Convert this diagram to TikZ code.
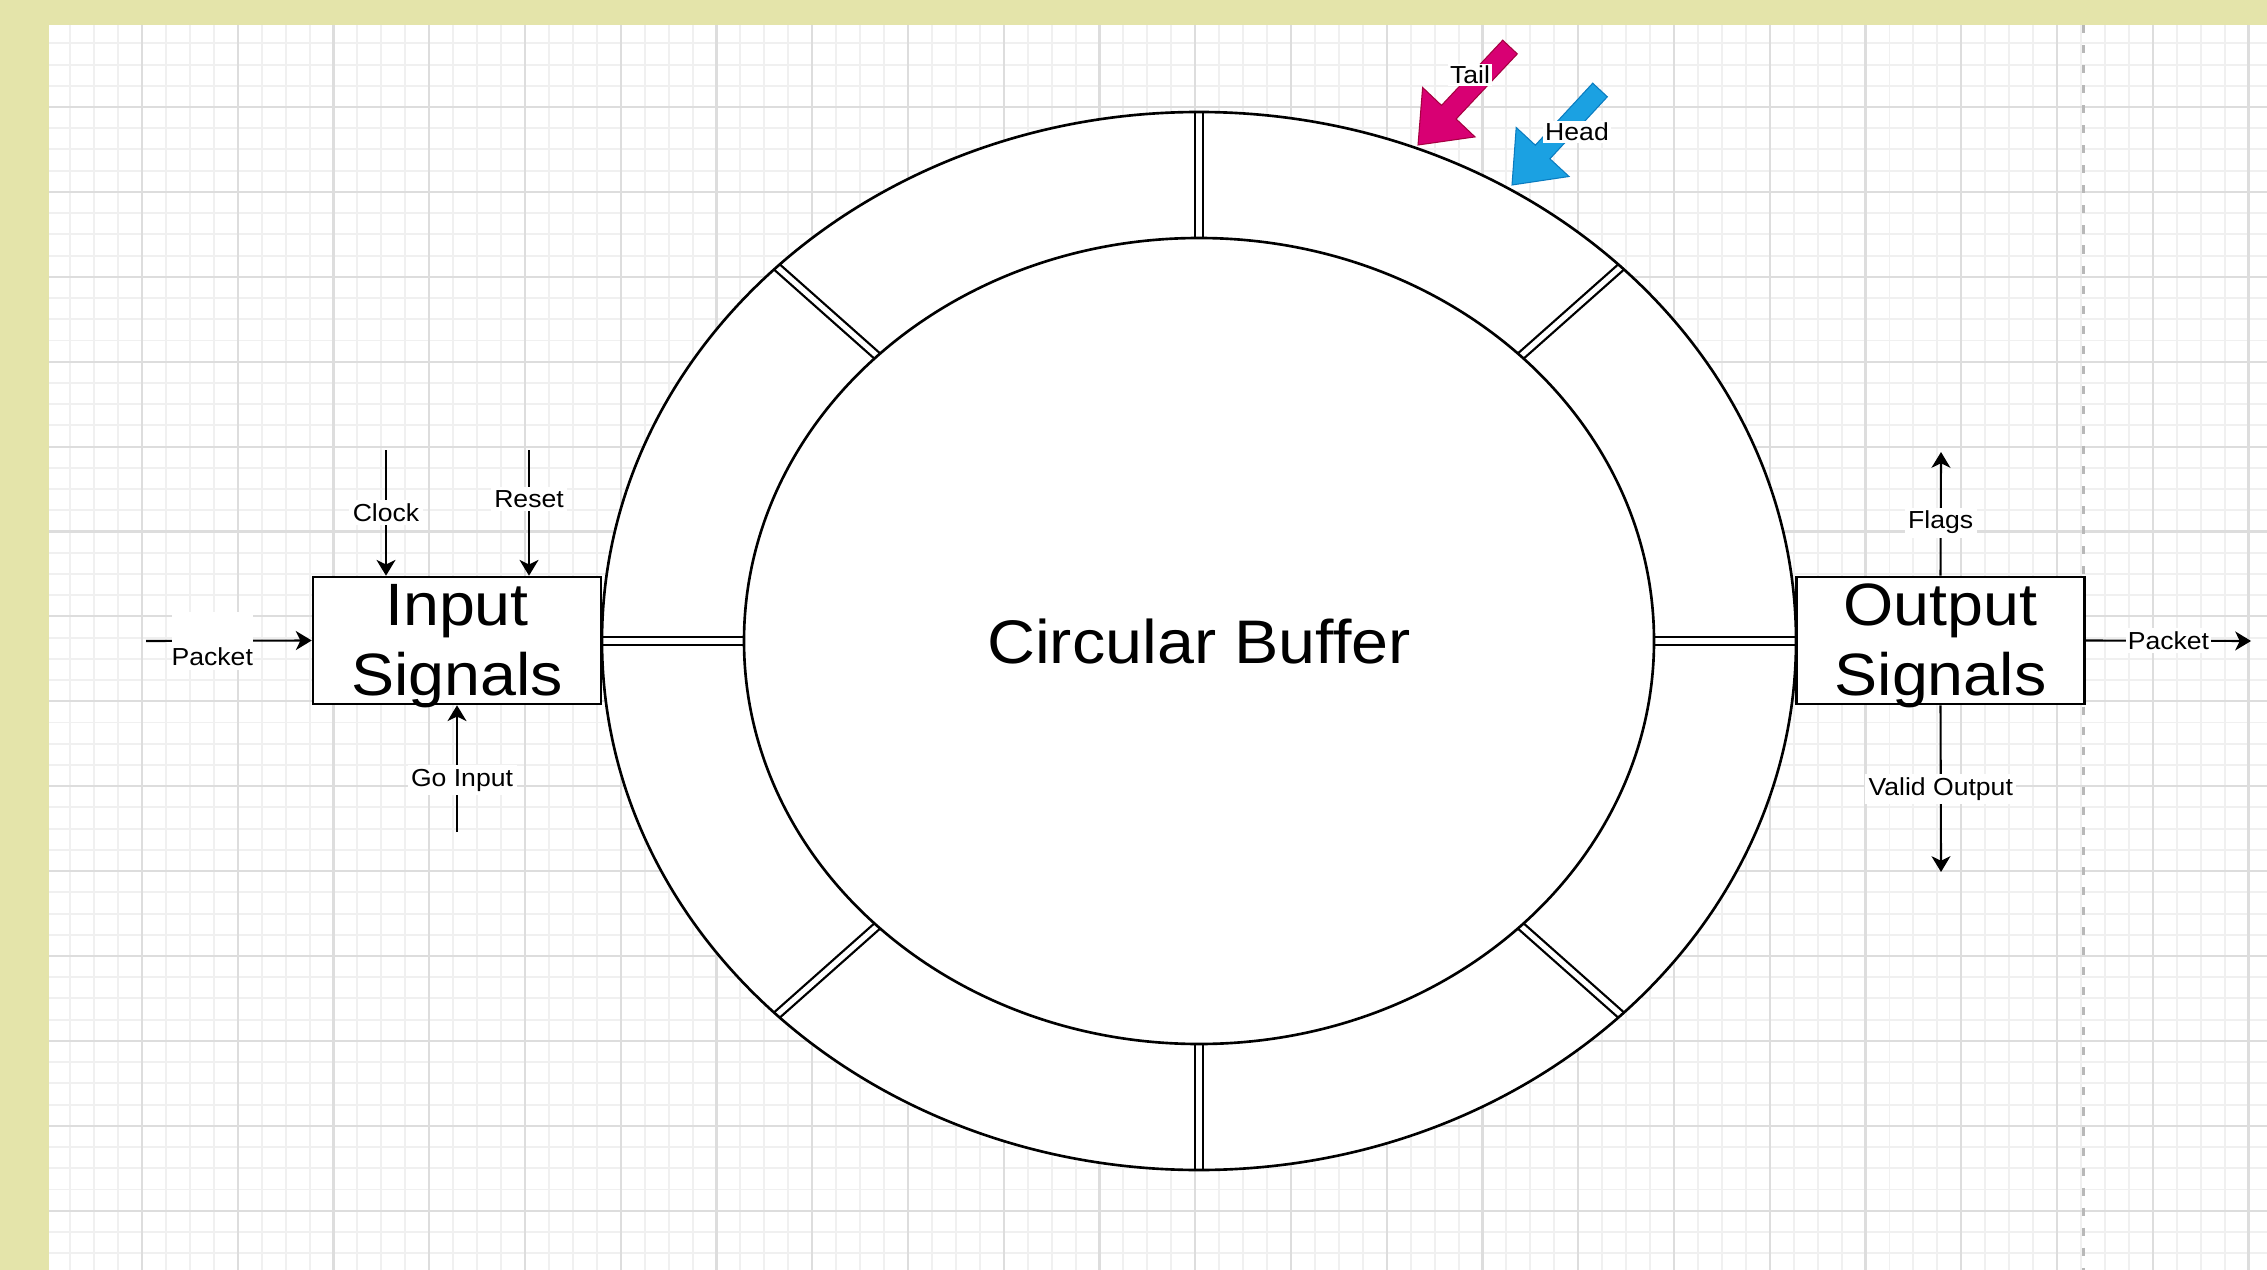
\documentclass[tikz,border=0pt]{standalone}
\usepackage{fontspec}
\setmainfont{Liberation Sans}
\usepackage{graphicx}
\usetikzlibrary{arrows.meta}
\definecolor{bgolive}{HTML}{E4E4AA}
\definecolor{gridmajor}{HTML}{DDDDDD}
\definecolor{gridminor}{HTML}{F0F0F0}
\definecolor{tailcol}{HTML}{D80073}
\definecolor{tailedge}{HTML}{A50040}
\definecolor{headcol}{HTML}{1BA1E2}
\definecolor{headedge}{HTML}{0A7CC0}
\definecolor{dashgray}{HTML}{B8B8B8}
\newcommand{\sx}[1]{\scalebox{1.08}[1]{#1}}
\newcommand{\topline}[1]{\raisebox{0pt}[11.5pt][0pt]{\sx{#1}}}
\newcommand{\botline}[1]{\raisebox{0pt}[\height][0pt]{\sx{#1}}}
\tikzset{
  sigbox/.style={draw=black, line width=0.7pt, fill=white, minimum width=2.88cm,
    minimum height=1.27cm, inner sep=0pt, align=center, font=\fontsize{17}{19.8}\selectfont},
  sig/.style={draw=black, line width=0.6pt, -{Stealth[length=4.5pt,width=5.4pt,inset=1.3pt]}},
  siglabel/.style={fill=white, inner xsep=1pt, inner ysep=1pt, font=\fontsize{7}{8}\selectfont},
  ringline/.style={draw=black, line width=0.75pt},
  divider/.style={draw=black, line width=0.65pt, double=white, double distance=1.5pt},
  ptrlabel/.style={fill=white, inner sep=0.5pt, font=\fontsize{7}{8}\selectfont},
  minorline/.style={gridminor, line width=0.55pt},
  majorline/.style={gridmajor, line width=0.6pt},
}
\begin{document}
\begin{tikzpicture}[x=0.01cm, y=-0.01cm]
\useasboundingbox (0,0) rectangle (2267,1270);
\fill[white] (0,0) rectangle (2267,1270);
% grid
\foreach \i in {0,...,93} \draw[minorline] ({46.25+\i*23.9375},0) -- ++(0,1270);
\foreach \j in {0,...,58} \draw[minorline] (0,{22.1+\j*21.225}) -- ++(2267,0);
\foreach \i in {0,...,23} \draw[majorline] ({46.25+\i*95.75},0) -- ++(0,1270);
\foreach \j in {0,...,14} \draw[majorline] (0,{22.1+\j*84.9}) -- ++(2267,0);
% page border
\fill[bgolive] (0,0) rectangle (49,1270);
\fill[bgolive] (0,0) rectangle (2267,25);
% dashed page break
\draw[dashgray, line width=0.85pt, dash pattern=on 2.3pt off 3.4pt] (2083,25) -- (2083,1270);
% ring
\fill[white] (1199,641) ellipse [x radius=597, y radius=529];
\foreach \a in {0,45,...,315}
  \draw[divider] ({1199+455*cos(\a)},{641-403*sin(\a)}) -- ({1199+597*cos(\a)},{641-529*sin(\a)});
\draw[ringline] (1199,641) ellipse [x radius=597, y radius=529];
\draw[ringline] (1199,641) ellipse [x radius=455, y radius=403];
\node[font=\fontsize{17.5}{20}\selectfont] (cb) at (1199,641) {\sx{Circular Buffer}};
% boxes
\node[sigbox] (in) at (457,640.5) {\topline{Input}\\\botline{Signals}};
\node[sigbox] (out) at (1940.5,640.5) {\topline{Output}\\\botline{Signals}};
% input signals
\coordinate (clk) at (386,450);
\coordinate (rst) at (529,450);
\coordinate (go) at (457,832);
\coordinate (pin) at (146,641);
\draw[sig] (clk) -- (clk |- in.north) node[siglabel, pos=0.5] {\sx{Clock}};
\draw[sig] (rst) -- (rst |- in.north) node[siglabel, pos=0.39] {\sx{Reset}};
\draw[sig] (go) -- (in.south) node[siglabel, pos=0.41, xshift=0.05cm] {\sx{Go Input}};
\draw[sig] (pin) -- (in.west) node[pos=0.4, fill=white, inner sep=0pt, text height=0.538cm, text depth=0.042cm, font=\fontsize{7}{8}\selectfont] {\sx{Packet}};
% output signals
\coordinate (flg) at (1941,452);
\coordinate (vld) at (1941,872);
\coordinate (pout) at (2251,641);
\draw[sig] (out.north) -- (flg) node[siglabel, pos=0.43] {\sx{Flags}};
\draw[sig] (out.south) -- (vld) node[siglabel, pos=0.5] {\sx{Valid Output}};
\draw[sig] (out.east) -- (pout) node[siglabel, pos=0.5, inner xsep=0.5pt] {\sx{Packet}};
% tail / head pointers
\filldraw[fill=tailcol, draw=tailedge, line width=0.3pt]
  (1418,145) -- (1475,136.9) -- (1456.1,119) -- (1517.3,53.9) -- (1502.7,40.2)
  -- (1441.5,105.4) -- (1422.6,87.5) -- cycle;
\filldraw[fill=headcol, draw=headedge, line width=0.3pt]
  (1512,185) -- (1569,176.5) -- (1549.9,158.8) -- (1607.3,96.8) -- (1592.7,83.2)
  -- (1535.3,145.2) -- (1516.2,127.5) -- cycle;
\node[ptrlabel] (tail) at (1470,75) {\sx{Tail}};
\node[ptrlabel] (head) at (1577,132) {\sx{Head}};
\end{tikzpicture}
\end{document}
